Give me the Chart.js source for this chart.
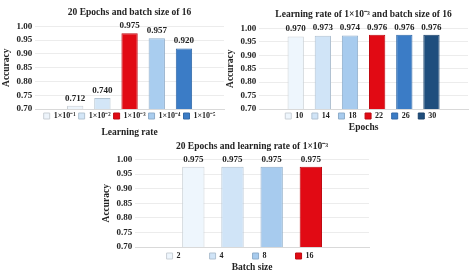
<!DOCTYPE html>
<html>
<head>
<meta charset="utf-8">
<script src="https://cdn.jsdelivr.net/npm/chart.js@4"></script>
<style>
  html, body { margin: 0; padding: 0; background: #fff; }
  body { width: 474px; height: 277px; position: relative; overflow: hidden; }
  .box { position: absolute; }
</style>
</head>
<body>
<div class="box" style="left:0;top:0;width:232px;height:140px"><canvas id="lrChart"></canvas></div>
<div class="box" style="left:224px;top:0;width:250px;height:140px"><canvas id="epochChart"></canvas></div>
<div class="box" style="left:100px;top:134px;width:275px;height:141px"><canvas id="batchChart"></canvas></div>
<script>
// Данные
const lrLabels = ['1×10⁻¹', '1×10⁻²', '1×10⁻³', '1×10⁻⁴', '1×10⁻⁵'];
const lrAccuracy = [0.712, 0.740, 0.975, 0.957, 0.920];
const lrColors = ['#edf4fb', '#d3e6f7', '#e10a14', '#a9cdef', '#3b7cc6'];

const epochLabels = ['10', '14', '18', '22', '26', '30'];
const epochAccuracy = [0.970, 0.973, 0.974, 0.976, 0.976, 0.976];
const epochColors = ['#eef6fd', '#d0e4f7', '#a7cbee', '#e10a14', '#3b7cc6', '#1f4e7d'];

const batchLabels = ['2', '4', '8', '16'];
const batchAccuracy = [0.975, 0.975, 0.975, 0.975];
const batchColors = ['#eef6fd', '#d0e4f7', '#a7cbee', '#e10a14'];

const FONT = "'Liberation Serif', serif";
const TEXT = '#222';

// Подписи значений над столбцами
const valueLabels = {
    id: 'valueLabels',
    afterDatasetsDraw(chart) {
        const ctx = chart.ctx;
        ctx.save();
        ctx.font = 'bold 9px ' + FONT;
        ctx.fillStyle = TEXT;
        ctx.textAlign = 'center';
        ctx.textBaseline = 'bottom';
        chart.data.datasets.forEach((ds, i) => {
            const bar = chart.getDatasetMeta(i).data[0];
            ctx.fillText(ds.data[0].toFixed(3), bar.x, bar.y - 3);
        });
        ctx.restore();
    }
};

function darker(hex) {
    const n = parseInt(hex.slice(1), 16);
    const f = c => Math.round(c * 0.85);
    return `rgb(${f(n >> 16)}, ${f((n >> 8) & 255)}, ${f(n & 255)})`;
}

function makeChart(id, labels, values, colors, title, xTitle, opts) {
    const datasets = labels.map((lab, i) => ({
        label: lab,
        data: [values[i]],
        backgroundColor: colors[i],
        borderColor: darker(colors[i]),
        borderWidth: 1,
        barPercentage: opts.barPct,
        categoryPercentage: opts.catPct
    }));
    const defaultLabels = Chart.defaults.plugins.legend.labels.generateLabels;
    return new Chart(document.getElementById(id), {
        type: 'bar',
        data: { labels: [''], datasets },
        options: {
            responsive: true,
            maintainAspectRatio: false,
            animation: false,
            layout: { padding: { left: 0, right: opts.padRight } },
            plugins: {
                title: {
                    display: true,
                    fullSize: false,
                    text: title,
                    color: TEXT,
                    font: { family: FONT, size: 9.5, weight: 'bold' },
                    padding: opts.titlePad
                },
                subtitle: {
                    display: true,
                    fullSize: false,
                    position: 'bottom',
                    text: xTitle,
                    color: TEXT,
                    font: { family: FONT, size: 9.5, weight: 'bold' },
                    padding: opts.subPad
                },
                legend: {
                    position: 'bottom',
                    fullSize: false,
                    labels: {
                        color: TEXT,
                        font: { family: FONT, size: 8, weight: 'bold' },
                        boxWidth: 6,
                        boxHeight: 6,
                        padding: opts.legendPad,
                        // доп. отступ между элементами легенды
                        generateLabels: chart => defaultLabels(chart).map(item => {
                            item.text = item.text + opts.legendTail;
                            return item;
                        })
                    }
                },
                tooltip: { enabled: false }
            },
            scales: {
                x: {
                    grid: { display: false, drawTicks: false },
                    border: { color: '#d9d9d9' },
                    ticks: { display: false }
                },
                y: {
                    min: 0.70,
                    max: 1.00,
                    ticks: {
                        stepSize: 0.05,
                        autoSkip: false,
                        color: TEXT,
                        padding: 3,
                        font: { family: FONT, size: 9, weight: 'bold' },
                        callback: v => v.toFixed(2)
                    },
                    grid: { color: '#ececec', drawTicks: false },
                    border: { display: false },
                    title: {
                        display: true,
                        text: 'Accuracy',
                        color: TEXT,
                        font: { family: FONT, size: 9.5, weight: 'bold' },
                        padding: 1
                    }
                }
            }
        },
        plugins: [valueLabels]
    });
}

makeChart('lrChart', lrLabels, lrAccuracy, lrColors,
    '20 Epochs and batch size of 16', 'Learning rate',
    { barPct: 0.6, catPct: 0.72, padRight: 8,
      titlePad: { top: 7, bottom: 8 }, subPad: { top: -2.7, bottom: 1.3 },
      legendPad: 3, legendTail: '' });

makeChart('epochChart', epochLabels, epochAccuracy, epochColors,
    'Learning rate of 1×10⁻³ and batch size of 16', 'Epochs',
    { barPct: 0.6, catPct: 0.78, padRight: 6,
      titlePad: { top: 9, bottom: 8 }, subPad: { top: -7.7, bottom: 6.3 },
      legendPad: 3, legendTail: '\u2002\u2009' });

makeChart('batchChart', batchLabels, batchAccuracy, batchColors,
    '20 Epochs and learning rate of 1×10⁻³', 'Batch size',
    { barPct: 0.57, catPct: 0.67, padRight: 6,
      titlePad: { top: 7, bottom: 7 }, subPad: { top: -7.7, bottom: 1.3 },
      legendPad: 5, legendTail: '\u2003\u2003\u2003' });
</script>
</body>
</html>
